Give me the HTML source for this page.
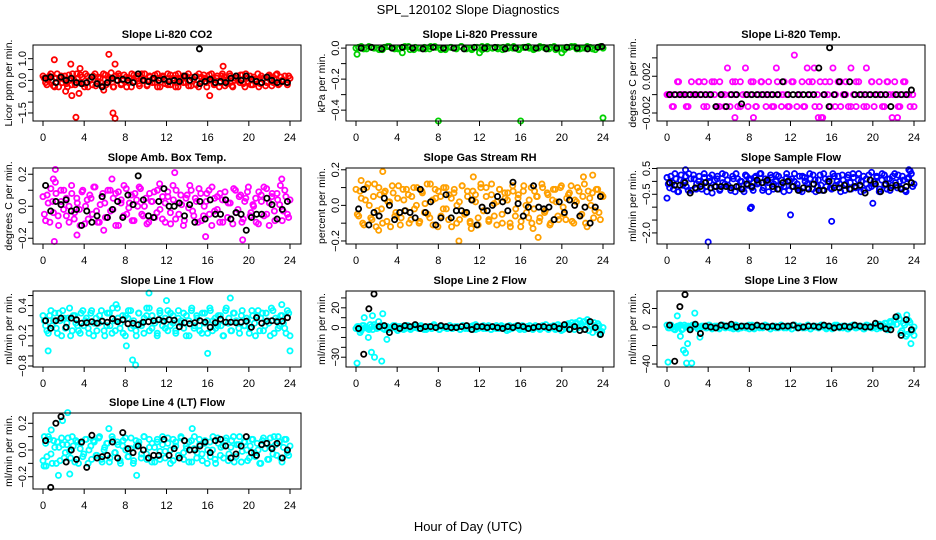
<!DOCTYPE html>
<html><head><meta charset="utf-8">
<style>
html,body{margin:0;padding:0;background:#fff;}
svg{display:block;font-family:"Liberation Sans",sans-serif;}
</style></head>
<body>
<svg id="chart" width="936" height="540" viewBox="0 0 936 540" xmlns="http://www.w3.org/2000/svg">
<text x="468" y="14" text-anchor="middle" font-size="13">SPL_120102  Slope Diagnostics</text>
<text x="468" y="531" text-anchor="middle" font-size="13">Hour of Day (UTC)</text>
</svg>
<script>
const xTicks=[0,4,8,12,16,20,24];

const co2Main=[0.1,-0.2,0.2,0.0,-0.3,0.3,0.1,-0.1,0.2,-0.3,0.0,0.3,-0.2,0.1,0.25,-0.15,0.3,-0.3,0.05,0.2,-0.25,0.15,-0.1,0.3,-0.2,0.1,0.35,-0.3,0.0,0.2,-0.15,0.25,-0.3,0.1,0.3,-0.05,0.2,-0.25,0.0,0.3,-0.2,0.15,-0.1,0.25,-0.3,0.1,0.2,-0.15,0.3,-0.2,0.0,0.25,-0.3,0.1,0.2,-0.1,0.3,-0.25,0.05,0.2,-0.3,0.15,0.25,-0.1,0.0,0.3,-0.2,0.1,-0.3,0.2,0.15,-0.15,0.3,-0.25,0.0,0.2,-0.1,0.25,-0.3,0.1,0.2,-0.2,0.05,0.3,-0.15,0.1,-0.25,0.2,0.0,-0.1,0.25,-0.2,0.15,0.0,-0.1,0.2];
const co2Main2=[0.2,-0.1,0.0,0.3,-0.25,0.1,-0.3,0.2,0.05,-0.15,0.25,-0.2,0.0,0.3,-0.1,0.15,-0.3,0.2,0.0,-0.2,0.3,-0.05,0.1,-0.25,0.25,-0.1,0.05,-0.3,0.2,0.3,-0.2,0.0,0.15,-0.1,-0.3,0.25,0.1,-0.15,0.3,0.0,-0.25,0.2,0.05,-0.1,0.3,-0.3,0.15,0.0,-0.2,0.25,0.1,-0.3,0.3,0.0,-0.1,0.2,-0.25,0.15,0.05,-0.2,0.3,-0.05,0.1,-0.3,0.25,0.0,-0.15,0.2,-0.1,0.3,-0.25,0.05,0.2,-0.3,0.1,0.0,0.25,-0.15,0.3,-0.05,-0.2,0.15,0.0,-0.3,0.2,0.1,-0.1,0.25,-0.25,0.05,0.3,-0.15,0.0,0.2,-0.2,0.1];
const co2Black=[0.1,0.15,-0.1,0.15,0.0,0.1,-0.1,-0.15,-0.1,0.15,-0.15,-0.3,-0.1,0.1,0.0,0.05,0.0,-0.1,0.3,0.0,-0.05,0.1,0.0,0.05,-0.05,0.0,-0.05,0.2,0.0,0.15,-0.15,-0.05,0.05,-0.1,-0.05,-0.1,0.1,0.2,0.0,0.2,0.05,-0.05,-0.1,0.15,0.0,-0.1,-0.05,-0.1];
const co2OutH=[1.1,2.7,3.6,6.4,7.0,3.2,6.8,7.0,2.8,3.5,16.2,17.5,2.2,5.9,15.2];
const co2OutV=[0.95,0.75,0.55,1.2,0.75,-1.7,-1.5,-1.75,-0.7,-0.6,-0.7,0.65,-0.5,-0.45,1.45];
const co2OutK=[0,0,0,0,0,0,0,0,0,0,0,0,0,0,1];

const presMain=[0.005,-0.005,0.01,0,-0.01,0.005,0.01,-0.005,0,0.01,-0.01,0.005,0,-0.005,0.01,0.005,-0.01,0,0.005,-0.005,0.01,0,-0.01,0.005,0.01,-0.005,0,0.005,-0.01,0.01,0,-0.005,0.005,0.01,-0.01,0,0.005,-0.005,0.01,0,-0.01,0.005,0.01,-0.005,0,0.005,-0.01,0.01];
const presMain2=[0,0.01,-0.005,0.005,0,-0.01,0.01,0,-0.005,0.005,0.01,-0.01,0,0.005,-0.005,0.01,0,-0.01,0.005,0,0.01,-0.005,0,0.005,-0.01,0.01,0,-0.005,0.005,0,0.01,-0.01,0.005,0,-0.005,0.01,0,0.005,-0.01,0,0.005,0.01,-0.005,0,0.01,-0.005,0.005,0];
const presBlack=[0,0.005,-0.005,0,0.005,0,-0.005,0.005,0,0,-0.005,0.005,0,0.005,-0.005,0,0.005,0,-0.005,0,0.005,0,-0.005,0.005];
const presOutH=[0.1,4.5,8.0,12.0,16.0,20.0,24.0,23.9];
const presOutV=[-0.04,-0.03,-0.47,-0.03,-0.47,-0.03,-0.45,0.01];
const presOutK=[0,0,0,0,0,0,0,1];

const tempMain=[0,0,-0.0013,0,0.0014,0,0,-0.0013,0,0.0014,0,0,0.0014,0,0.0014,-0.0013,0,0.0014,0,-0.0013,0.0014,0,-0.0013,0.0029,-0.0013,0.0014,0,-0.0013,0.0014,0,0.0029,-0.0013,0,0.0014,-0.0013,0,0.0014,0,-0.0013,0.0014,0,-0.0013,0.0029,0,-0.0013,0.0014,0,-0.0013,0.0014,0.0043,-0.0013,0,0.0014,-0.0013,0.0029,0,0.0014,-0.0013,0,0.0014,-0.0025,0.0014,0,-0.0013,0.0029,0,0.0014,-0.0013,0,0.0014,-0.0013,0.0029,0,-0.0013,0.0014,0,-0.0013,0.0029,0,0.0014,-0.0013,0,0.0014,0,-0.0013,0.0014,0,-0.0025,0.0014,0,-0.0013,0,0.0014,0,-0.0013,0];
const tempMain2=[0,-0.0013,0.0014,0,-0.0013,0,0.0014,-0.0013,0,0.0014,-0.0013,0,0,0.0014,-0.0013,0,0.0014,-0.0013,0.0014,0,-0.0013,0.0014,0,-0.0013,0.0014,0,-0.0013,0.0014,0.0029,-0.0013,0,0.0014,-0.0013,0.0014,0,-0.0013,0.0014,0,-0.0013,0.0014,0,-0.0013,0.0014,0,-0.0013,0.0014,0,-0.0013];
const tempBlack=[0,0,0,0,0,0,0,0,0,-0.0013,0,-0.0013,0,0,-0.001,0,0,0,0,0,0,0,0.0014,0,0,0,0,0,0,0.0029,0,-0.0013,0,0.0014,0,0.0014,0,0,0,0,0,0,0,-0.0013,0,0,0,0.0005];
const tempOutH=[6.6,8.4,14.7,15.0,22.4,15.8];
const tempOutV=[-0.0025,-0.0025,-0.0025,-0.0025,-0.0025,0.0051];
const tempOutK=[0,0,0,0,0,1];

const ambMain=[-0.05,0.07,-0.1,0.03,0.15,-0.06,0.1,-0.02,0.05,-0.1,0.08,-0.04,0.02,-0.12,0.1,0.0,-0.08,0.05,0.12,-0.03,-0.1,0.06,0.02,-0.07,0.1,-0.02,0.08,-0.12,0.04,0.13,-0.05,0.02,-0.09,0.08,0.0,0.11,-0.06,0.05,-0.1,0.03,0.09,-0.04,0.14,-0.08,0.02,0.06,-0.11,0.04,0.1,-0.05,0.01,-0.09,0.07,0.13,-0.03,0.05,-0.1,0.08,-0.06,0.03,0.1,-0.12,0.05,-0.02,0.08,-0.1,0.04,0.02,-0.08,0.11,-0.04,0.06,-0.1,0.03,0.09,-0.06,0.01,0.05,-0.11,0.07,0.12,-0.05,0.02,0.08,-0.09,0.04,0.13,-0.03,0.06,-0.07];
const ambMain2=[0.06,-0.09,0.02,0.11,-0.04,0.08,-0.12,0.03,0.1,-0.06,0.0,0.13,-0.08,0.05,-0.02,0.09,-0.11,0.04,0.07,-0.05,0.12,-0.1,0.01,0.08,-0.07,0.1,-0.03,0.05,-0.12,0.09,0.02,-0.06,0.11,-0.01,0.07,-0.09,0.04,0.12,-0.05,0.0,-0.11,0.08,0.03,-0.07,0.1,-0.02,0.06,-0.1,0.09,-0.04,0.13,-0.08,0.02,0.07,-0.12,0.05,-0.01,0.1,-0.06,0.03,0.11,-0.09,0.0,0.08,-0.05,0.12,-0.03,0.06,-0.1,0.04,0.09,-0.07,0.02,-0.11,0.1,-0.02,0.07,-0.08,0.05,0.12,-0.04,0.0,-0.1,0.09,0.03,-0.06,0.11,-0.12,0.06,-0.03,0.08,0.01,-0.09,0.1,-0.05,0.04];
const ambBlack=[0.13,-0.03,0.03,0.01,0.04,-0.03,-0.02,-0.12,-0.03,-0.1,-0.06,0.06,-0.07,-0.02,0.03,-0.07,0.07,0.01,0.19,0.04,-0.06,-0.07,0.03,0.11,0.0,0.0,0.02,-0.06,0.01,-0.1,0.03,-0.08,0.04,-0.05,-0.05,0.04,-0.08,-0.04,-0.05,-0.15,-0.07,-0.05,-0.05,0.05,0.01,-0.08,-0.02,0.03];
const ambOutH=[1.2,1.0,6.7,12.8,15.8,19.4,3.3,5.9,1.1,23.2];
const ambOutV=[0.23,0.17,0.17,0.21,-0.19,-0.21,-0.18,-0.15,-0.22,0.17];
const ambOutK=[0,0,0,0,0,0,0,0,0,0];

const rhMain=[-0.05,0.08,-0.1,0.03,0.12,-0.07,0.05,-0.12,0.1,-0.02,0.07,-0.09,0.02,0.11,-0.06,0.04,-0.11,0.09,-0.03,0.06,-0.08,0.1,0.0,-0.1,0.08,-0.04,0.12,-0.07,0.03,0.09,-0.12,0.05,-0.02,0.1,-0.08,0.04,0.07,-0.1,0.02,0.11,-0.05,0.08,-0.09,0.03,0.06,-0.11,0.1,-0.03,0.05,-0.08,0.12,-0.06,0.02,0.09,-0.1,0.04,0.07,-0.12,0.08,-0.02,0.06,-0.09,0.11,-0.04,0.03,-0.1,0.08,0.05,-0.07,0.1,-0.03,0.06,-0.1,0.09,0.02,-0.08,0.11,-0.05,0.04,0.07,-0.09,0.03,0.1,-0.06,0.05,-0.1,0.08,0.0,-0.07,0.09,-0.04,0.06];
const rhMain2=[0.09,-0.06,0.04,-0.11,0.1,0.0,-0.08,0.12,-0.03,0.06,-0.1,0.08,0.02,-0.12,0.07,-0.04,0.11,-0.07,0.03,0.09,-0.1,0.05,-0.02,0.1,-0.09,0.07,0.01,-0.05,0.12,-0.11,0.04,0.08,-0.06,0.1,-0.02,0.06,-0.12,0.09,0.0,-0.08,0.11,-0.04,0.05,-0.1,0.08,0.02,-0.07,0.12,-0.03,0.1,-0.09,0.06,0.01,-0.11,0.09,-0.05,0.07,0.03,-0.1,0.11,-0.06,0.04,-0.12,0.08,0.0,-0.07,0.1,-0.02,0.05,-0.09,0.12,-0.04,0.07,-0.11,0.03,0.09,-0.06,0.1,-0.01,-0.08,0.06,0.11,-0.1,0.02,0.08,-0.05,0.12,-0.12,0.04,0.07,-0.03,0.09,-0.08,0.05];
const rhBlack=[-0.02,0.09,-0.11,-0.04,-0.06,0.04,0.0,-0.08,-0.04,-0.03,-0.04,-0.07,0.09,-0.04,0.02,-0.11,-0.07,0.06,-0.07,-0.03,-0.03,-0.04,0.03,-0.11,-0.01,-0.03,0.0,0.05,0.02,-0.03,0.13,0.01,-0.06,-0.01,0.11,-0.01,-0.02,-0.01,-0.08,0.02,-0.04,0.03,0.0,-0.06,-0.01,-0.1,-0.01,0.05];
const rhOutH=[2.6,0.5,11.4,10.0,17.7,23.0,22.1,17.2,2.2,11.2];
const rhOutV=[0.19,0.14,0.16,-0.2,-0.18,0.17,0.16,-0.13,-0.14,-0.13];
const rhOutK=[0,0,0,0,0,0,0,0,0,0];

const sfMain=[-0.1,0.2,-0.3,0.1,-0.4,0.25,0.0,-0.2,0.3,-0.35,0.1,-0.1,0.2,-0.3,0.15,-0.4,0.0,0.25,-0.2,0.1,-0.35,0.3,-0.1,0.05,-0.25,0.2,-0.4,0.1,0.0,-0.3,0.25,-0.15,0.1,-0.35,0.2,-0.05,0.3,-0.25,0.0,-0.4,0.15,-0.1,0.25,-0.3,0.05,-0.2,0.3,-0.35,0.1,0.0,-0.25,0.2,-0.4,0.15,-0.1,0.3,-0.3,0.05,-0.2,0.25,-0.35,0.1,0.0,-0.25,0.3,-0.15,0.2,-0.4,0.05,-0.1,0.25,-0.3,0.15,-0.2,0.3,0.0,-0.35,0.1,-0.25,0.35,-0.1,0.2,-0.4,0.05,0.25,-0.3,0.1,-0.15,0.3,-0.25,0.0,0.2,-0.35,0.1,0.4,-0.2];
const sfMain2=[0.15,-0.25,-0.05,0.3,-0.4,0.05,-0.15,0.2,-0.35,0.1,0.25,-0.3,0.0,-0.1,0.3,-0.2,0.15,-0.45,0.05,0.2,-0.3,-0.05,0.25,-0.15,-0.35,0.1,0.3,-0.2,0.0,-0.4,0.2,0.05,-0.25,0.15,-0.1,0.3,-0.35,0.1,-0.05,0.25,-0.3,0.0,0.2,-0.15,-0.4,0.15,0.05,-0.2,0.3,-0.1,-0.35,0.2,0.0,-0.25,0.1,0.25,-0.4,0.05,-0.15,0.3,-0.2,0.1,-0.3,0.2,0.0,-0.1,0.25,-0.35,0.15,-0.05,0.3,-0.25,0.05,-0.4,0.2,-0.1,0.25,-0.2,0.0,0.15,-0.3,0.3,-0.15,0.1,-0.35,0.2,-0.05,0.25,-0.25,0.05,-0.4,0.15,0.3,-0.1];
const sfBlack=[-0.05,-0.15,-0.15,-0.05,-0.45,-0.25,-0.2,-0.05,-0.25,-0.2,-0.2,-0.2,-0.25,-0.2,-0.3,-0.1,-0.2,0.05,-0.05,0.05,-0.2,-0.3,-0.05,0.0,-0.2,-0.35,-0.25,-0.3,-0.1,-0.35,-0.35,0.0,-0.25,-0.25,-0.15,-0.3,-0.2,-0.15,-0.45,0.05,-0.1,-0.4,-0.1,-0.25,-0.15,-0.3,-0.2,-0.05];
const sfOutH=[0.0,8.1,8.2,12.0,16.0,4.0,20.0,1.8,23.5];
const sfOutV=[-0.65,-1.05,-1.0,-1.3,-1.55,-2.35,-0.85,0.45,0.45];
const sfOutK=[0,0,0,0,0,0,0,0,0];

const l1Main=[0.1,-0.1,0.2,0.0,0.25,-0.15,0.1,0.3,-0.05,0.15,-0.2,0.2,0.05,-0.1,0.25,0.0,0.15,-0.15,0.3,0.05,-0.1,0.2,0.1,-0.2,0.25,0.0,0.35,-0.1,0.15,0.05,-0.15,0.2,0.3,-0.05,0.1,-0.2,0.25,0.0,0.15,0.35,-0.1,0.2,0.05,-0.15,0.25,0.1,-0.05,0.3,0.0,0.2,-0.1,0.15,0.05,0.25,-0.2,0.1,0.3,-0.05,0.2,0.0,-0.15,0.25,0.1,0.35,-0.1,0.15,0.0,0.2,-0.2,0.3,0.05,-0.1,0.25,0.1,-0.05,0.2,0.0,0.15,-0.15,0.3,0.05,0.2,-0.1,0.25,0.0,0.1,-0.2,0.3,0.15,-0.05,0.2,0.05,-0.15,0.25];
const l1Main2=[0.2,0.0,-0.15,0.3,0.1,-0.05,0.25,-0.2,0.15,0.05,0.35,-0.1,0.2,0.0,-0.15,0.3,0.1,-0.05,0.25,-0.2,0.15,0.05,0.3,-0.1,0.0,0.25,-0.15,0.1,0.35,-0.05,0.2,-0.2,0.15,0.3,0.0,-0.1,0.25,0.05,-0.15,0.2,0.35,-0.05,0.1,-0.2,0.3,0.0,0.15,-0.1,0.25,0.05,-0.15,0.3,0.1,-0.05,0.2,-0.2,0.35,0.0,0.15,-0.1,0.25,0.05,-0.15,0.3,0.1,-0.05,0.2,0.0,-0.2,0.35,0.15,-0.1,0.25,0.05,-0.15,0.3,0.0,0.1,-0.05,0.2,-0.2,0.3,0.15,-0.1,0.25,0.05,0.35,-0.15,0.1,0.0,0.2,-0.05,0.3,-0.2];
const l1Black=[0.1,-0.05,0.1,0.15,-0.03,0.15,0.12,0.05,0.06,0.08,0.05,0.09,0.07,0.14,0.08,0.12,0.04,0.05,0.02,0.07,0.08,0.1,0.12,0.09,0.12,0.11,-0.02,0.06,0.04,0.06,0.1,0.07,-0.03,0.06,0.13,0.07,0.07,0.06,0.07,0.09,-0.03,0.16,0.05,0.09,0.1,0.08,0.09,0.16];
const l1OutH=[0.5,8.7,9.0,8.1,10.3,18.2,16.0,24.0,12.0,7.1,23.2];
const l1OutV=[-0.5,-0.68,-0.78,-0.4,0.65,0.55,-0.55,-0.5,0.5,0.42,0.42];
const l1OutK=[0,0,0,0,0,0,0,0,0,0,0];

const l2Main=[1,-2,2,0,-1,3,-2,1,0,2,-1,1,-2,0,2,-1,1,0,-2,2,1,-1,0,2,-1,1,-2,0,1,-1,2,0,-2,1,0,-1,2,-1,1,0,-2,2,0,-1,1,2,-2,0,1,-1,0,2,-2,1,-1,0,2,-1,1,-2,0,1,2,-1,0,-2,1,2,-1,0,1,-2,2,0,-1,1,0,-2,3,1,-2,2,4,-1,3,5,0,4,6,2,-3,1,5,-2,2,-4];
const l2Main2=[-1,1,-3,2,0,-2,1,3,-1,0,2,-2,1,-1,0,2,-3,1,0,-1,2,-2,1,0,-1,2,0,-2,1,-1,3,0,-2,1,0,-1,2,-1,0,1,-2,2,-1,0,1,-2,3,-1,0,2,-1,1,-2,0,2,-1,1,0,-3,2,-1,1,0,-2,2,0,1,-1,-2,2,0,-1,1,3,-2,0,2,-1,1,-3,2,0,3,5,-2,4,7,1,6,8,3,-5,2,4,-6,0];
const l2Black=[-1,-27,19,34,1,2,-5,1,-1,2,1,3,-1,1,1,0,2,1,0,0,1,2,-2,1,1,0,1,0,-1,1,0,2,1,-1,0,1,1,0,1,-1,3,-2,1,-3,-2,6,0,-7];
const l2OutH=[0.1,0.8,1.2,1.5,1.8,2.5,2.6,1.6,2.2,3.0,23.7,0.4];
const l2OutV=[-36,10,-10,-25,-30,-34,14,12,6,-12,-7,-5];
const l2OutK=[0,0,0,0,0,0,0,0,0,0,0,0];

const l3Main=[-1,2,-2,0,1,-3,2,0,-1,2,1,-2,0,1,-1,2,0,-1,1,-2,2,0,1,-1,0,2,-2,1,0,-1,2,0,-2,1,-1,0,2,1,-2,0,1,-1,2,0,-1,1,-2,2,0,1,-1,0,2,-2,1,0,-1,2,1,-1,0,-2,2,1,0,-1,1,-2,0,2,-1,1,0,-2,2,1,-1,0,3,-1,2,4,-2,5,7,3,9,-4,2,-8,5,-3];
const l3Main2=[2,-1,0,-3,1,2,-2,0,1,-1,2,0,-2,1,0,-1,2,-2,1,0,-1,2,-1,0,1,-2,2,0,-1,1,0,-2,2,-1,1,0,-1,2,0,-2,1,-1,0,2,-1,1,0,-2,2,-1,1,0,-1,2,-2,0,1,-1,2,0,-2,1,-1,0,2,-1,1,0,-2,1,2,-1,0,1,-2,2,0,-1,1,-2,3,0,4,-3,6,2,8,12,-6,4,-10,7,-5,0];
const l3Black=[2,-37,22,35,-3,3,-7,1,0,-1,2,1,3,0,1,1,0,2,1,0,1,0,1,1,2,-1,0,1,1,0,2,1,-1,0,1,0,2,1,0,0,4,1,-2,-3,11,-9,8,-3];
const l3OutH=[0.1,1.0,1.3,1.6,1.8,2.0,1.9,2.4,2.7,3.2,23.3,23.7,24.0];
const l3OutV=[-38,12,-10,-25,-28,-18,-39,-39,15,-11,13,-18,-9];
const l3OutK=[0,0,0,0,0,0,0,0,0,0,0,0,0];

const l4Main=[0.1,-0.05,0.08,-0.1,0.02,0.06,-0.08,0.04,-0.02,0.09,-0.06,0.03,0.07,-0.1,0.05,-0.03,0.08,0.0,-0.07,0.06,-0.04,0.1,-0.09,0.02,0.05,-0.06,0.08,-0.02,0.04,-0.1,0.07,0.0,-0.05,0.09,-0.08,0.03,0.06,-0.03,0.1,-0.07,0.02,0.05,-0.09,0.08,-0.01,0.04,-0.06,0.09,0.0,-0.08,0.06,-0.04,0.1,-0.02,0.03,-0.09,0.07,0.01,-0.06,0.08,-0.03,0.05,-0.1,0.06,0.0,-0.07,0.09,-0.04,0.03,0.07,-0.08,0.02,0.1,-0.05,0.04,-0.09,0.06,0.0,-0.06,0.08,-0.02,0.05,-0.1,0.07,0.01,-0.07,0.09,-0.03,0.04,0.1,-0.06,0.02,0.08,-0.04];
const l4Main2=[-0.08,0.05,0.1,-0.03,0.07,-0.1,0.02,0.09,-0.06,0.04,-0.01,0.1,-0.09,0.06,0.01,-0.05,0.08,-0.1,0.03,0.07,-0.04,0.09,-0.07,0.0,0.05,-0.09,0.1,-0.02,0.06,-0.08,0.03,0.09,-0.05,0.01,-0.1,0.07,0.04,-0.06,0.1,-0.03,0.08,-0.09,0.02,0.06,-0.07,0.1,-0.01,0.05,-0.1,0.08,0.03,-0.04,0.09,-0.07,0.01,0.06,-0.09,0.1,-0.02,0.04,-0.08,0.07,0.0,-0.05,0.1,-0.1,0.05,0.02,-0.06,0.09,-0.03,0.07,-0.09,0.04,0.1,-0.01,0.06,-0.08,0.03,0.08,-0.05,0.0,-0.1,0.09,0.05,-0.07,0.02,0.1,-0.04,0.06,-0.09,0.08,-0.02,0.03];
const l4Black=[0.07,-0.28,0.2,0.25,-0.09,0.0,-0.07,0.06,-0.13,0.11,-0.06,-0.05,-0.04,0.06,-0.06,0.13,0.01,-0.02,0.03,0.0,-0.06,-0.04,-0.04,0.08,-0.04,0.01,-0.06,0.07,0.0,0.0,0.03,0.06,-0.02,0.07,0.08,0.03,-0.06,-0.03,0.03,0.1,-0.02,-0.04,0.04,0.05,0.01,0.05,-0.06,0.0];
const l4OutH=[0.3,1.5,2.4,1.9,9.1,6.4,0.8,2.6,14.5,0.1];
const l4OutV=[-0.12,-0.19,0.28,0.22,-0.19,0.16,0.15,-0.18,0.16,-0.12];
const l4OutK=[0,0,0,0,0,0,0,0,0,0];

const panels=[
 {name:'co2',title:'Slope Li-820 CO2',ylab:'Licor ppm per min.',col:0,row:0,ymin:-1.87,ymax:1.63,ticks:[-1.5,-1,-0.5,0,0.5,1],labels:{'-1.5':'-1.5','0':'0.0','1':'1.0'},color:'#ff0000',main:co2Main,main2:co2Main2,black:co2Black,oh:co2OutH,ov:co2OutV,ok:co2OutK},
 {name:'pressure',title:'Slope Li-820 Pressure',ylab:'kPa per min.',col:1,row:0,ymin:-0.47,ymax:0.02,ticks:[-0.4,-0.3,-0.2,-0.1,0],labels:{'-0.4':'-0.4','-0.2':'-0.2','0':'0.0'},color:'#00d000',main:presMain,main2:presMain2,black:presBlack,oh:presOutH,ov:presOutV,ok:presOutK},
 {name:'temp',title:'Slope Li-820 Temp.',ylab:'degrees C per min.',col:2,row:0,ymin:-0.00287,ymax:0.0054,ticks:[-0.002,0,0.002,0.004],labels:{'-0.002':'-0.002','0.002':'0.002'},color:'#ff00ff',main:tempMain,main2:tempMain2,black:tempBlack,oh:tempOutH,ov:tempOutV,ok:tempOutK},
 {name:'amb-box-temp',title:'Slope Amb. Box Temp.',ylab:'degrees C per min.',col:0,row:1,ymin:-0.236,ymax:0.239,ticks:[-0.2,-0.1,0,0.1,0.2],labels:{'-0.2':'-0.2','0':'0.0','0.2':'0.2'},color:'#ff00ff',main:ambMain,main2:ambMain2,black:ambBlack,oh:ambOutH,ov:ambOutV,ok:ambOutK},
 {name:'gas-stream-rh',title:'Slope Gas Stream RH',ylab:'percent per min.',col:1,row:1,ymin:-0.217,ymax:0.21,ticks:[-0.2,-0.1,0,0.1,0.2],labels:{'-0.2':'-0.2','0':'0.0','0.2':'0.2'},color:'#ffa000',main:rhMain,main2:rhMain2,black:rhBlack,oh:rhOutH,ov:rhOutV,ok:rhOutK},
 {name:'sample-flow',title:'Slope Sample Flow',ylab:'ml/min per min.',col:2,row:1,ymin:-2.43,ymax:0.52,ticks:[-2,-1.5,-1,-0.5,0,0.5],labels:{'-2':'-2.0','-0.5':'-0.5','0.5':'0.5'},color:'#0000ff',main:sfMain,main2:sfMain2,black:sfBlack,oh:sfOutH,ov:sfOutV,ok:sfOutK},
 {name:'line1-flow',title:'Slope Line 1 Flow',ylab:'ml/min per min.',col:0,row:2,ymin:-0.82,ymax:0.69,ticks:[-0.8,-0.6,-0.4,-0.2,0,0.2,0.4,0.6],labels:{'-0.8':'-0.8','-0.2':'-0.2','0.4':'0.4'},color:'#00ffff',main:l1Main,main2:l1Main2,black:l1Black,oh:l1OutH,ov:l1OutV,ok:l1OutK},
 {name:'line2-flow',title:'Slope Line 2 Flow',ylab:'ml/min per min.',col:1,row:2,ymin:-39.9,ymax:37,ticks:[-30,-20,-10,0,10,20,30],labels:{'-30':'-30','0':'0','20':'20'},color:'#00ffff',main:l2Main,main2:l2Main2,black:l2Black,oh:l2OutH,ov:l2OutV,ok:l2OutK},
 {name:'line3-flow',title:'Slope Line 3 Flow',ylab:'ml/min per min.',col:2,row:2,ymin:-43.2,ymax:38.9,ticks:[-40,-20,0,20],labels:{'-40':'-40','0':'0','20':'20'},color:'#00ffff',main:l3Main,main2:l3Main2,black:l3Black,oh:l3OutH,ov:l3OutV,ok:l3OutK},
 {name:'line4-flow',title:'Slope Line 4 (LT) Flow',ylab:'ml/min per min.',col:0,row:3,ymin:-0.292,ymax:0.277,ticks:[-0.2,-0.1,0,0.1,0.2],labels:{'-0.2':'-0.2','0':'0.0','0.2':'0.2'},color:'#00ffff',main:l4Main,main2:l4Main2,black:l4Black,oh:l4OutH,ov:l4OutV,ok:l4OutK}
];

const NS='http://www.w3.org/2000/svg';
const svg=document.getElementById('chart');
const colLeft=[33,346,657], rowTop=[45,168,291,413], BW=268, BH=76;
function mk(tag,attrs,parent){const e=document.createElementNS(NS,tag);for(const k in attrs)e.setAttribute(k,attrs[k]);parent.appendChild(e);return e;}

panels.forEach(p=>{
  const L=colLeft[p.col], T=rowTop[p.row], R=L+BW, B=T+BH;
  const xs=h=>L+10+(h/24)*(BW-21);
  const ys=v=>B-(v-p.ymin)/(p.ymax-p.ymin)*BH;
  const g=mk('g',{},svg);
  
  
  const t=mk('text',{x:(L+R)/2,y:T-7,'text-anchor':'middle','font-size':11,'font-weight':'bold'},g);
  t.textContent=p.title;
  
  
  const yl=mk('text',{x:0,y:0,'text-anchor':'middle','font-size':10.5,transform:`translate(${L-21},${(T+B)/2}) rotate(-90)`},g);
  yl.textContent=p.ylab;
  
  
  const pts=mk('g',{fill:'none','stroke-width':1.8},g);
  
  
  p.main.forEach((v,i)=>{
    const c=mk('circle',{cx:xs(24*(i+0.5)/p.main.length),cy:ys(v),r:2.6,stroke:p.color},pts);
    
    
  });
  p.main2.forEach((v,i)=>{
    const c=mk('circle',{cx:xs(24*i/(p.main2.length-1)),cy:ys(v),r:2.6,stroke:p.color},pts);
    
    
  });
  p.oh.forEach((h,i)=>{ if(p.ok[i]) return;
    const c=mk('circle',{cx:xs(h),cy:ys(p.ov[i]),r:2.6,stroke:p.color},pts);
    
    
  });
  p.black.forEach((v,i)=>{
    const c=mk('circle',{cx:xs(24*(i+0.5)/p.black.length),cy:ys(v),r:2.6,stroke:'#000'},pts);
    
    
  });
  p.oh.forEach((h,i)=>{ if(!p.ok[i]) return;
    const c=mk('circle',{cx:xs(h),cy:ys(p.ov[i]),r:2.6,stroke:'#000'},pts);
    
    
  });
  const bx=mk('rect',{x:L,y:T,width:BW,height:BH,fill:'none',stroke:'#000','stroke-width':1},g);
  
  
  xTicks.forEach(h=>{
    mk('line',{x1:xs(h),x2:xs(h),y1:B,y2:B+5,stroke:'#000'},g);
    const tl=mk('text',{x:xs(h),y:B+20,'text-anchor':'middle','font-size':11},g);
    tl.textContent=String(h);
    
    
  });
  p.ticks.forEach(v=>{
    mk('line',{x1:L-5,x2:L,y1:ys(v),y2:ys(v),stroke:'#000'},g);
    const lab=p.labels[String(v)];
    if(lab){
      const tl=mk('text',{x:0,y:0,'text-anchor':'middle','font-size':11,transform:`translate(${L-7},${ys(v)}) rotate(-90)`},g);
      tl.textContent=lab.replace('-','\u2212');
      
      
    }
  });
});
</script>
</body></html>
